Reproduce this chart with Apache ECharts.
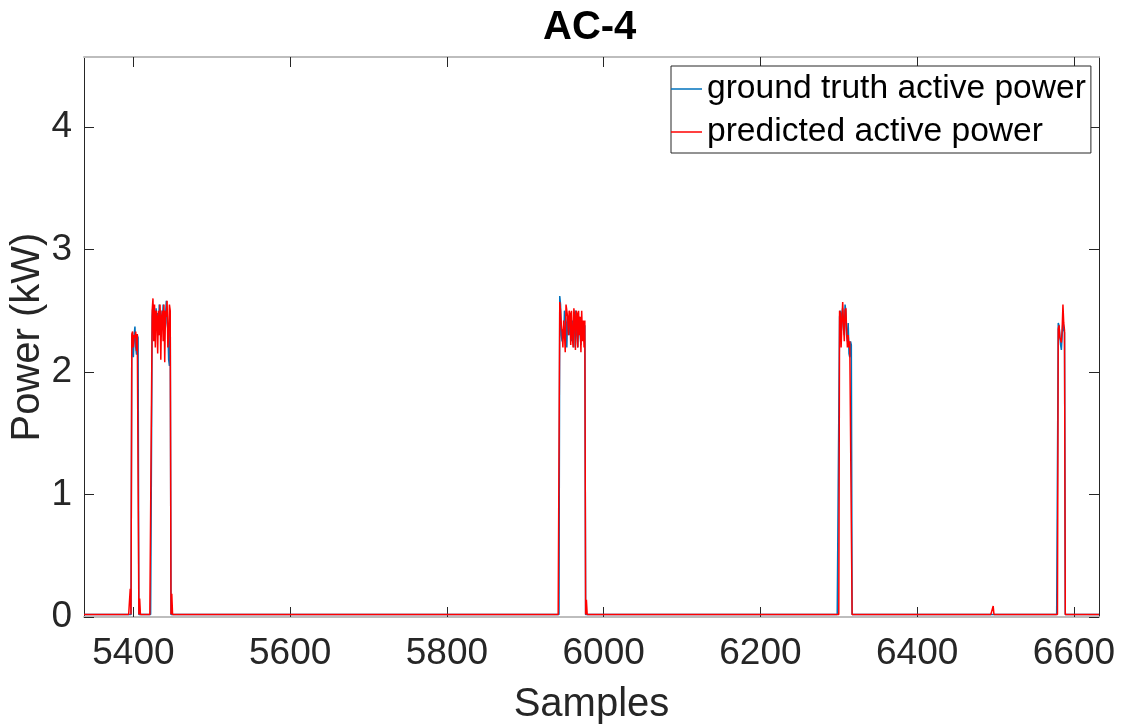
<!DOCTYPE html>
<html>
<head>
<meta charset="utf-8">
<title>AC-4</title>
<script src="https://cdn.jsdelivr.net/npm/echarts@6/dist/echarts.min.js"></script>
<style>
  html, body { margin: 0; padding: 0; background: #fff; }
  #chart { width: 1126px; height: 727px; }
</style>
</head>
<body>
<div id="chart"></div>
<script>
// Sample window shown on the x axis
const sampleStart = 5337;
const sampleEnd = 6632;

// Idle power level (kW) between operating cycles
const baseline = 0.02;

// First sample of each operating cycle
const eventStarts = [5398, 5424, 5944, 6301, 6580];

// Measured active power (kW) during each cycle, one value per sample
const truthEvents = [
  [2.30, 2.24, 2.12, 2.30, 2.37, 2.20, 2.14, 2.30, 2.28],
  [2.45, 2.55, 2.30, 2.50, 2.35, 2.52, 2.40, 2.48, 2.30, 2.55, 2.45, 2.50,
   2.35, 2.42, 2.55, 2.30, 2.50, 2.45, 2.58, 2.40, 2.35, 2.10, 2.05, 2.50],
  [2.62, 2.55, 2.30, 2.25, 2.35, 2.28, 2.50, 2.45, 2.40, 2.20, 2.45, 2.38,
   2.30, 2.48, 2.35, 2.25, 2.42, 2.30, 2.20, 2.45, 2.50, 2.35, 2.28, 2.20,
   2.40, 2.45, 2.30, 2.22, 2.35, 2.28, 2.40, 2.25, 2.38],
  [2.45, 2.50, 2.30, 2.48, 2.52, 2.35, 2.30, 2.55, 2.50, 2.30, 2.25, 2.40,
   2.15, 2.12, 2.25, 2.22],
  [2.40, 2.38, 2.30, 2.22, 2.18, 2.30, 2.42, 2.35, 2.32]
];

// Predicted active power (kW) during each cycle
const predEvents = [
  [2.31, 2.33, 2.20, 2.30, 2.28, 2.33, 2.17, 2.31, 2.30],
  [2.50, 2.60, 2.25, 2.55, 2.20, 2.50, 2.45, 2.15, 2.50, 2.30, 2.55, 2.10,
   2.45, 2.50, 2.25, 2.55, 2.08, 2.50, 2.45, 2.58, 2.20, 2.30, 2.55, 2.50],
  [2.57, 2.50, 2.38, 2.32, 2.20, 2.42, 2.32, 2.16, 2.55, 2.50, 2.45, 2.30,
   2.50, 2.48, 2.22, 2.50, 2.30, 2.20, 2.52, 2.45, 2.18, 2.50, 2.48, 2.20,
   2.50, 2.30, 2.45, 2.16, 2.50, 2.25, 2.42, 2.20, 2.42],
  [2.50, 2.48, 2.20, 2.42, 2.57, 2.40, 2.25, 2.50, 2.52, 2.35, 2.20, 2.30,
   2.20, 2.25, 2.25, 2.26],
  [2.35, 2.38, 2.28, 2.26, 2.24, 2.35, 2.55, 2.40, 2.34]
];

// Short spurious predictions outside the cycles
const predSpikeSamples = [5396, 5408, 5449, 5978, 6497];
const predSpikeValues = [0.23, 0.15, 0.19, 0.14, 0.09];

// Axis tick labels
const xTicks = [5400, 5600, 5800, 6000, 6200, 6400, 6600];
const yTicks = [0, 1, 2, 3, 4];
const yMax = 4.57;

function buildSeries(events, spikeSamples, spikeValues) {
  const out = [];
  for (let s = sampleStart; s <= sampleEnd; s++) {
    let v = baseline;
    for (let e = 0; e < eventStarts.length; e++) {
      const k = s - eventStarts[e];
      if (k >= 0 && k < events[e].length) { v = events[e][k]; }
    }
    const si = spikeSamples.indexOf(s);
    if (si >= 0) { v = spikeValues[si]; }
    out.push([s, v]);
  }
  return out;
}

const truthData = buildSeries(truthEvents, [], []);
const predData = buildSeries(predEvents, predSpikeSamples, predSpikeValues);

const FONT = 'Liberation Sans, Arial, Helvetica, sans-serif';
const INK = '#262626';

const chart = echarts.init(document.getElementById('chart'), null, { renderer: 'canvas' });

chart.setOption({
  animation: false,
  backgroundColor: '#ffffff',
  textStyle: { fontFamily: FONT },
  title: {
    text: 'AC-4',
    left: 538,
    top: 3,
    textStyle: { fontFamily: FONT, fontSize: 40, fontWeight: 'bold', color: '#000' }
  },
  grid: {
    left: 84, right: 27, top: 57, bottom: 110,
    containLabel: false,
    outerBoundsMode: 'none'
  },
  legend: {
    orient: 'vertical',
    left: 671,
    top: 66,
    padding: [3, 5, 1, 0],
    itemGap: 3,
    itemWidth: 31,
    itemHeight: 1.5,
    icon: 'rect',
    backgroundColor: '#ffffff',
    borderColor: INK,
    borderWidth: 1,
    textStyle: { fontFamily: FONT, fontSize: 33.6, color: '#000', lineHeight: 40 },
    data: ['ground truth active power', 'predicted active power']
  },
  xAxis: [
    {
      type: 'value',
      position: 'bottom',
      min: sampleStart,
      max: sampleEnd,
      name: 'Samples',
      nameLocation: 'middle',
      nameGap: 68,
      nameTextStyle: { fontFamily: FONT, fontSize: 40, color: INK },
      axisLine: { show: true, lineStyle: { color: '#bdbdbd', width: 2 } },
      axisTick: { show: true, inside: true, length: 10, customValues: xTicks, lineStyle: { color: INK, width: 1 } },
      axisLabel: {
        show: true, customValues: xTicks, margin: 18,
        fontFamily: FONT, fontSize: 37, color: INK,
        formatter: (v) => String(v)
      },
      splitLine: { show: false }
    },
    {
      type: 'value',
      position: 'top',
      min: sampleStart,
      max: sampleEnd,
      axisLine: { show: true, onZero: false, lineStyle: { color: '#bdbdbd', width: 2 } },
      axisTick: { show: true, inside: true, length: 10, customValues: xTicks, lineStyle: { color: INK, width: 1 } },
      axisLabel: { show: false },
      splitLine: { show: false }
    }
  ],
  yAxis: [
    {
      type: 'value',
      position: 'left',
      min: 0,
      max: yMax,
      name: 'Power (kW)',
      nameLocation: 'middle',
      nameGap: 36,
      nameMoveOverlap: false,
      nameTextStyle: { fontFamily: FONT, fontSize: 40, color: INK },
      axisLine: { show: true, lineStyle: { color: INK, width: 1 } },
      axisTick: { show: true, inside: true, length: 10, customValues: yTicks, lineStyle: { color: INK, width: 1 } },
      axisLabel: {
        show: true, customValues: yTicks, margin: 12,
        fontFamily: FONT, fontSize: 37, color: INK,
        formatter: (v) => String(v)
      },
      splitLine: { show: false }
    },
    {
      type: 'value',
      position: 'right',
      min: 0,
      max: yMax,
      axisLine: { show: true, onZero: false, lineStyle: { color: INK, width: 1 } },
      axisTick: { show: true, inside: true, length: 10, customValues: yTicks, lineStyle: { color: INK, width: 1 } },
      axisLabel: { show: false },
      splitLine: { show: false }
    }
  ],
  series: [
    {
      name: 'ground truth active power',
      type: 'line',
      xAxisIndex: 0,
      yAxisIndex: 0,
      data: truthData,
      showSymbol: false,
      symbol: 'none',
      color: '#0072BD',
      lineStyle: { color: '#0072BD', width: 1.5 },
      z: 2
    },
    {
      name: 'predicted active power',
      type: 'line',
      xAxisIndex: 0,
      yAxisIndex: 0,
      data: predData,
      showSymbol: false,
      symbol: 'none',
      color: '#FF0000',
      lineStyle: { color: '#FF0000', width: 1.5 },
      z: 3
    }
  ]
});
</script>
</body>
</html>
